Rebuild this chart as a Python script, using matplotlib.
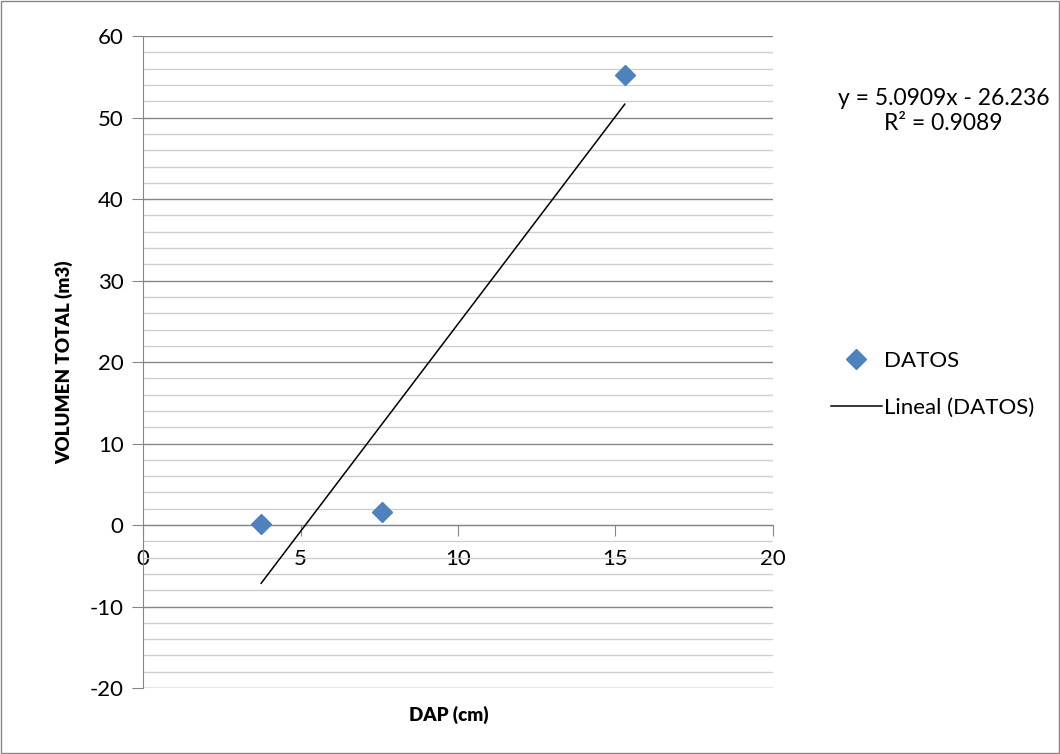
import numpy as np
import matplotlib
matplotlib.use("Agg")
import matplotlib.pyplot as plt
from matplotlib.ticker import MultipleLocator

plt.rcParams["font.family"] = ["Lato", "DejaVu Sans"]
plt.rcParams["axes.unicode_minus"] = False

dap = [3.75, 7.6, 15.3]
volumen = [0.1, 1.6, 55.2]
slope, intercept = 5.0909, -26.236
eq_text = "y = 5.0909x - 26.236\nR² = 0.9089"

fig = plt.figure(figsize=(10.6, 7.54), dpi=100)
ax = fig.add_axes([0.135, 0.0875, 0.594, 0.8645])

ax.set_xlim(0, 20)
ax.set_ylim(-20, 60)
ax.yaxis.set_major_locator(MultipleLocator(10))
ax.yaxis.set_minor_locator(MultipleLocator(2))
ax.xaxis.set_major_locator(MultipleLocator(5))

ax.grid(True, axis="y", which="major", color="#868686", lw=1)
ax.grid(True, axis="y", which="minor", color="#CFCFCF", lw=1)
ax.set_axisbelow(True)

for s in ["top", "right"]:
    ax.spines[s].set_visible(False)
ax.spines["bottom"].set_position(("data", 0))
ax.spines["left"].set_color("#868686")
ax.spines["bottom"].set_color("#868686")

ax.tick_params(axis="y", which="major", direction="out", length=8, color="#868686",
               labelsize=16, pad=6)
ax.tick_params(axis="y", which="minor", length=0)
ax.tick_params(axis="x", direction="out", length=8, color="#868686", labelsize=16, pad=9)

xs = np.array([min(dap), max(dap)])
ax.plot(xs, slope * xs + intercept, color="black", lw=1.1, label="Lineal (DATOS)", zorder=3)
ax.plot(dap, volumen, "D", color="#4F81BD", markersize=10, linestyle="none",
        label="DATOS", zorder=4)

ax.set_ylabel("VOLUMEN TOTAL (m3)", fontsize=13.5, fontweight="heavy", labelpad=12)
ax.set_xlabel("DAP (cm)", fontsize=13.5, fontweight="heavy")
ax.xaxis.set_label_coords(0.485, -0.027)

fig.text(0.89, 0.853, eq_text, ha="center", va="center", fontsize=16.5, linespacing=1.2)

h, l = ax.get_legend_handles_labels()
fig.legend(h[::-1], l[::-1], loc="center left", bbox_to_anchor=(0.765, 0.49),
           frameon=False, fontsize=16, handlelength=2.3, handletextpad=0.1,
           labelspacing=1.2)

fig.patches.append(plt.Rectangle((0.001, 0.001), 0.998, 0.998, transform=fig.transFigure,
                                 fill=False, edgecolor="#868686", lw=1))

fig.savefig("out.png", dpi=100)
